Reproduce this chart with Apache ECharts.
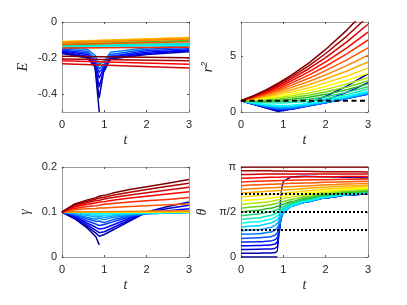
<!DOCTYPE html>
<html><head><meta charset="utf-8">
<script src="https://cdn.jsdelivr.net/npm/echarts@6/dist/echarts.min.js"></script>
<style>html,body{margin:0;padding:0;background:#fff}#c{width:407px;height:305px}</style>
</head><body><div id="c"></div>
<script>
// ---- time grids ----
const tE  = [0, 0.6, 0.78, 0.88, 0.98, 1.15, 2, 3];
const tR  = [0, 0.3, 0.6, 0.9, 1.2, 1.6, 2, 2.5, 3];
const tG  = [0, 0.3, 0.6, 0.8, 0.88, 1.0, 1.2, 1.6, 2, 2.5, 3];
const tTh = [0, 0.4, 0.7, 0.8, 0.86, 0.9, 0.95, 1.0, 1.2, 1.5, 2, 2.5, 3];
const N = null;
// ---- E(t), one row per trajectory (blue -> red) ----
const energy = [
[-0.175,-0.2,-0.25,-0.5,N,N,N,N],
[-0.17,-0.195,-0.245,-0.42,-0.28,-0.205,-0.18,-0.165],
[-0.165,-0.19,-0.24,-0.36,-0.27,-0.2,-0.175,-0.16],
[-0.16,-0.18,-0.232,-0.31,-0.26,-0.195,-0.168,-0.155],
[-0.155,-0.172,-0.222,-0.28,-0.25,-0.19,-0.16,-0.148],
[-0.15,-0.162,-0.205,-0.26,-0.238,-0.18,-0.152,-0.14],
[-0.145,-0.152,-0.185,-0.235,-0.22,-0.168,-0.143,-0.132],
[-0.142,N,N,N,N,N,N,-0.125],
[-0.14,N,N,N,N,N,N,-0.122],
[-0.137,N,N,N,N,N,N,-0.13],
[-0.133,N,N,N,N,N,N,-0.118],
[-0.128,N,N,N,N,N,N,-0.105],
[-0.124,N,N,N,N,N,N,-0.1],
[-0.12,N,N,N,N,N,N,-0.097],
[-0.116,N,N,N,N,N,N,-0.093],
[-0.112,N,N,N,N,N,N,-0.09],
[-0.108,N,N,N,N,N,N,-0.086],
[-0.11,N,N,N,N,N,N,-0.088],
[-0.115,N,N,N,N,N,N,-0.095],
[-0.125,N,N,N,N,N,N,-0.11],
[-0.145,N,N,N,N,N,N,-0.14],
[-0.215,N,N,N,N,N,N,-0.235],
[-0.232,N,N,N,N,N,N,-0.255],
[-0.205,N,N,N,N,N,N,-0.215],
[-0.19,N,N,N,N,N,N,-0.198]
];
// ---- r^2(t) ----
const rsq = [
[1,0.68,0.36,0.03,N,N,N,N,N],
[1,0.685,0.37,0.07,0.3,0.8,1.4,2.3,3.4],
[1,0.69,0.38,0.11,0.26,0.62,1.05,1.75,2.6],
[1,0.695,0.39,0.15,0.25,0.55,0.85,1.23,1.62],
[1,0.70,0.41,0.2,0.27,0.54,0.83,1.2,1.58],
[1,0.71,0.44,0.26,0.31,0.55,0.83,1.2,1.6],
[1,0.725,0.48,0.33,0.37,0.58,0.85,1.22,1.63],
[1,0.745,0.53,0.41,0.44,0.62,0.88,1.26,1.68],
[1,0.77,0.59,0.49,0.52,0.68,0.93,1.32,1.75],
[1,0.8,0.65,0.58,0.6,0.75,1.0,1.4,1.85],
[1,0.889,0.826,0.811,0.844,0.963,1.168,1.544,2.05],
[1,0.931,0.906,0.924,0.984,1.132,1.356,1.744,2.25],
[1,0.975,0.988,1.041,1.132,1.315,1.568,1.981,2.5],
[1,1.017,1.07,1.157,1.28,1.497,1.778,2.215,2.75],
[1,1.061,1.154,1.279,1.436,1.695,2.012,2.487,3.05],
[1,1.105,1.242,1.409,1.608,1.92,2.288,2.825,3.45],
[1,1.15,1.332,1.544,1.788,2.16,2.588,3.2,3.9],
[1,1.196,1.426,1.688,1.984,2.429,2.932,3.644,4.45],
[1,1.243,1.522,1.837,2.188,2.712,3.3,4.125,5.05],
[1,1.285,1.61,1.978,2.386,2.994,3.676,4.631,5.7],
[1,1.324,1.696,2.116,2.584,3.283,4.068,5.169,6.4],
[1,1.363,1.781,2.254,2.782,3.57,4.456,5.7,7.1],
[1,1.397,1.858,2.381,2.967,3.845,4.836,6.231,7.8],
[1,1.426,1.924,2.494,3.136,4.104,5.2,6.75,8.5],
[1,1.45,1.98,2.6,3.3,4.35,5.56,7.28,9.22]
];
// ---- gamma(t) ----
const gam = [
[0.1,0.085,0.064,0.045,0.027,N,N,N,N,N,N],
[0.1,0.086,0.067,0.053,0.046,0.05,0.06,0.08,0.1,0.112,0.122],
[0.1,0.088,0.071,0.059,0.054,0.056,0.065,0.083,0.099,0.108,0.115],
[0.1,0.09,0.075,0.066,0.062,0.064,0.071,0.086,0.098,0.103,0.107],
[0.1,0.092,0.08,0.073,0.07,0.072,0.078,0.089,0.097,0.1,0.102],
[0.1,0.094,0.085,0.079,0.08,0.076,0.083,0.091,0.096,0.098,0.1],
[0.1,0.095,0.088,0.084,0.086,0.083,0.088,0.093,0.096,0.098,0.099],
[0.1,0.097,0.092,0.089,0.09,0.088,0.091,0.095,0.097,0.098,0.099],
[0.1,0.098,0.095,0.093,0.094,0.092,0.094,0.096,0.097,0.098,0.099],
[0.1,0.099,0.097,0.096,0.096,0.096,0.097,0.098,0.098,0.099,0.099],
[0.1,N,N,N,N,N,N,N,N,N,0.0992],
[0.1,N,N,N,N,N,N,N,N,N,0.0995],
[0.1,N,N,N,N,N,N,N,N,N,0.0998],
[0.1,N,N,N,N,N,N,N,N,N,0.1],
[0.1,N,N,N,N,N,N,N,N,N,0.1003],
[0.1,N,N,N,N,N,N,N,N,N,0.1006],
[0.1,N,N,N,N,N,N,N,N,N,0.101],
[0.1,N,N,N,N,N,N,N,N,N,0.1015],
[0.1,N,N,N,N,N,N,N,N,N,0.1025],
[0.1,0.105,0.107,0.108,0.109,0.109,0.11,0.112,0.114,0.116,0.118],
[0.1,0.108,0.112,0.114,0.115,0.117,0.119,0.122,0.125,0.128,0.132],
[0.1,0.111,0.117,0.12,0.122,0.123,0.126,0.131,0.135,0.14,0.145],
[0.1,0.114,0.121,0.125,0.126,0.129,0.132,0.138,0.143,0.149,0.155],
[0.1,0.116,0.124,0.129,0.131,0.133,0.137,0.144,0.15,0.157,0.164],
[0.1,0.118,0.127,0.132,0.135,0.137,0.142,0.15,0.156,0.164,0.172]
];
// ---- theta(t) ----
const theta = [
[0,0,0,0,0,N,N,N,N,N,N,N,N],
[0.13,0.135,0.14,0.15,0.2,1.2,2.3,2.65,2.8,2.82,2.8,2.78,2.76],
[0.26,0.27,0.28,0.3,0.36,0.8,1.52,1.66,1.8,1.92,2.07,2.16,2.22],
[0.39,0.4,0.42,0.45,0.52,0.85,1.45,1.63,1.79,1.91,2.07,2.16,2.22],
[0.52,0.53,0.56,0.6,0.68,0.92,1.38,1.6,1.78,1.91,2.07,2.16,2.22],
[0.65,0.67,0.71,0.76,0.85,1.02,1.35,1.57,1.78,1.91,2.07,2.16,2.23],
[0.79,0.81,0.87,0.93,1.02,1.15,1.36,1.56,1.78,1.91,2.07,2.17,2.23],
[0.92,0.95,1.03,1.1,1.18,1.27,1.42,1.57,1.78,1.92,2.08,2.17,2.24],
[1.05,1.09,1.18,1.25,1.32,1.39,1.5,1.6,1.79,1.93,2.09,2.18,2.24],
[1.18,1.23,1.32,1.38,1.44,1.5,1.57,1.64,1.81,1.95,2.1,2.19,2.25],
[1.31,1.36,1.45,1.5,1.55,1.6,1.65,1.7,1.85,1.98,2.13,2.22,2.27],
[1.44,1.5,1.58,1.62,1.66,1.69,1.73,1.77,1.89,2.01,2.15,2.24,2.29],
[1.57,1.63,1.7,1.74,1.77,1.79,1.82,1.85,1.94,2.05,2.18,2.26,2.31],
[1.7,1.76,1.82,1.86,1.88,1.9,1.92,1.94,2.01,2.1,2.22,2.29,2.34],
[1.83,1.89,1.94,1.97,1.99,2.0,2.02,2.04,2.09,2.16,2.26,2.33,2.37],
[1.96,2.01,2.06,2.08,2.09,2.1,2.11,2.13,2.17,2.23,2.31,2.37,2.41],
[2.09,2.14,2.18,2.19,2.2,2.21,2.22,2.23,2.26,2.3,2.37,2.42,2.46],
[2.23,2.27,2.3,2.31,2.32,2.32,2.33,2.34,2.36,2.39,2.44,2.48,2.51],
[2.36,2.39,2.42,2.42,2.43,2.43,2.44,2.44,2.46,2.48,2.52,2.55,2.57],
[2.49,2.52,2.54,2.54,2.55,2.55,2.55,2.56,2.57,2.58,2.61,2.63,2.64],
[2.62,2.64,2.66,2.66,2.66,2.67,2.67,2.67,2.68,2.69,2.7,2.71,2.72],
[2.75,2.77,2.78,2.78,2.78,2.78,2.79,2.79,2.79,2.8,2.8,2.81,2.81],
[2.88,2.89,2.9,2.9,2.9,2.9,2.9,2.9,2.9,2.9,2.9,2.9,2.9],
[3.01,3.01,3.01,3.0,3.0,3.0,3.0,3.0,2.99,2.99,2.98,2.98,2.97],
[3.1416,N,N,N,N,N,N,N,N,N,N,N,3.1416]
];
// ---- reference lines ----
const refT = [0, 3];
const rsqRef = [1];
const thetaRefs = [0.3 * Math.PI, 0.5 * Math.PI, 0.7 * Math.PI];
// ---- ticks ----
const xTicks = [0, 1, 2, 3];
const eTicks = [-0.4, -0.2, 0];
const rTicks = [0, 5];
const gTicks = [0, 0.1, 0.2];
const thTickVals = [0, Math.PI / 2, Math.PI];
const thTickLabels = ['0', 'π/2', 'π'];

// ---- style ----
const stops = [[0,[0,0,143]],[0.125,[0,0,255]],[0.25,[0,128,255]],[0.375,[0,255,255]],
  [0.5,[40,190,40]],[0.625,[255,255,0]],[0.75,[255,128,0]],[0.875,[255,0,0]],[1,[128,0,0]]];
function cmap(x){
  for (let i=0;i<stops.length-1;i++){
    const [a,ca]=stops[i],[b,cb]=stops[i+1];
    if (x<=b){const f=(x-a)/(b-a);return 'rgb('+ca.map((v,j)=>Math.round(v+(cb[j]-v)*f)).join(',')+')';}
  }
  return 'rgb(128,0,0)';
}
const SANS = 'Liberation Sans, Arial, sans-serif';
const SERIF = 'Liberation Serif, Times New Roman, serif';
const TXT = '#262626', BOX = '#999';
const grids = [
  {left:62, top:22, width:127, height:90},
  {left:241, top:22, width:127, height:90},
  {left:62, top:167, width:127, height:90},
  {left:241, top:167, width:127, height:90}
];
const yDefs = [
  {min:-0.5, max:0, interval:0.1, ticks:eTicks, fmt:v=>String(Math.round(v*10)/10), name:'E', gap:32},
  {min:0, max:8, interval:1, ticks:rTicks, fmt:v=>String(v), name:'{i|r}{s|2}', gap:24},
  {min:0, max:0.2, interval:0.1, ticks:gTicks, fmt:v=>String(Math.round(v*10)/10), name:'γ', gap:30},
  {min:0, max:Math.PI, ticks:thTickVals, fmt:v=>{const i=thTickVals.findIndex(t=>Math.abs(t-v)<1e-6);return i>=0?thTickLabels[i]:'';}, name:'θ', gap:32}
];
const nameStyle = {fontFamily:SERIF, fontStyle:'italic', fontSize:14, color:TXT,
  rich:{i:{fontFamily:SERIF, fontStyle:'italic', fontSize:14, color:TXT},
        s:{fontFamily:SANS, fontSize:9, color:TXT, verticalAlign:'top', padding:[0,0,8,0]}}};
const line = {show:true, onZero:false, lineStyle:{color:BOX, width:1}};
const tick = {show:true, inside:true, length:2, lineStyle:{color:'#555'}};
const labelStyle = {fontSize:11, color:TXT, fontFamily:SANS};
const xAxis = [], yAxis = [];
grids.forEach((g,i)=>{
  xAxis.push({gridIndex:i, type:'value', min:0, max:3, interval:1, position:'bottom',
    axisLine:line, axisTick:tick, splitLine:{show:false},
    axisLabel:Object.assign({margin:7, customValues:xTicks}, labelStyle),
    name:'t', nameLocation:'middle', nameGap:21, nameTextStyle:nameStyle});
  xAxis.push({gridIndex:i, type:'value', min:0, max:3, interval:1, position:'top',
    axisLine:line, axisTick:tick, splitLine:{show:false}, axisLabel:{show:false}});
  const d = yDefs[i];
  yAxis.push({gridIndex:i, type:'value', min:d.min, max:d.max, interval:d.interval, position:'left',
    axisLine:line, axisTick:Object.assign({customValues:d.ticks}, tick), splitLine:{show:false},
    axisLabel:Object.assign({margin:5, customValues:d.ticks, formatter:d.fmt}, labelStyle),
    name:d.name, nameLocation:'middle', nameGap:d.gap, nameTextStyle:nameStyle});
  yAxis.push({gridIndex:i, type:'value', min:d.min, max:d.max, interval:d.interval, position:'right',
    axisLine:line, axisTick:Object.assign({customValues:d.ticks}, tick), splitLine:{show:false},
    axisLabel:{show:false}});
});
const panels = [
  {t:tE, ys:energy, smooth:false},
  {t:tR, ys:rsq, smooth:false},
  {t:tG, ys:gam, smooth:false},
  {t:tTh, ys:theta, smooth:0.2}
];
const series = [];
panels.forEach((p,gi)=>{
  const n = p.ys.length;
  p.ys.forEach((row,k)=>{
    const data = [];
    row.forEach((v,j)=>{ if (v!==null) data.push([p.t[j], v]); });
    series.push({type:'line', xAxisIndex:2*gi, yAxisIndex:2*gi, data, symbol:'none',
      smooth:p.smooth, smoothMonotone:'x', clip:true, silent:true,
      lineStyle:{color:cmap(k/(n-1)), width:1.5, join:'round'}, z:2});
  });
});
// dashed r^2 = 1
rsqRef.forEach(v=>series.push({type:'line', xAxisIndex:2, yAxisIndex:2, symbol:'none', silent:true,
  data:refT.map(t=>[t,v]), lineStyle:{color:'#000', width:2, type:[5,3.5]}, z:5}));
thetaRefs.forEach(v=>series.push({type:'line', xAxisIndex:6, yAxisIndex:6, symbol:'none', silent:true,
  data:refT.map(t=>[t,v]), lineStyle:{color:'#000', width:2, type:[2,2]}, z:5}));

const chart = echarts.init(document.getElementById('c'), null, {renderer:'canvas'});
chart.setOption({
  animation:false, backgroundColor:'#fff',
  grid:grids.map(g=>Object.assign({show:false, containLabel:false, outerBoundsMode:'none'}, g)),
  xAxis, yAxis, series
});
</script></body></html>
